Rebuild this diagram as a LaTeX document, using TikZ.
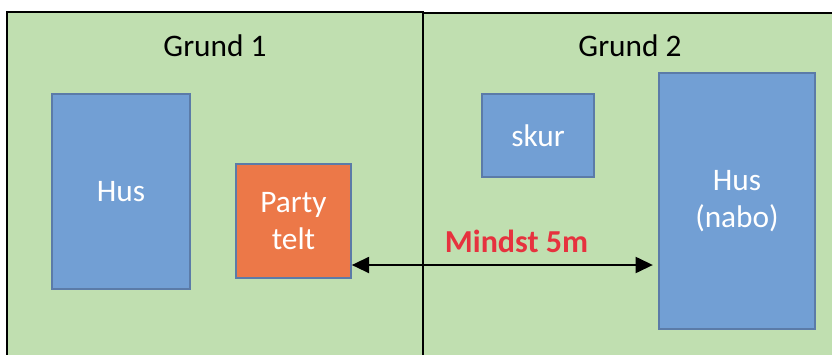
\documentclass[tikz,border=0pt]{standalone}
\usepackage{fontspec}
\setmainfont{Carlito}
\usetikzlibrary{arrows.meta}

\definecolor{grass}{HTML}{C0DFB0}
\definecolor{husblue}{HTML}{729FD4}
\definecolor{husline}{HTML}{5B7BA8}
\definecolor{teltorange}{HTML}{EC7848}
\definecolor{markred}{HTML}{E6323E}

\tikzset{every picture/.style={line width=0.75pt}}
\tikzset{
  grund/.style={draw=black, fill=grass, line width=1.2pt, inner sep=0pt},
  bygg/.style={draw=husline, fill=husblue, line width=1.2pt, inner sep=0pt, text=white, align=center, font=\fontsize{23.5}{28}\selectfont},
  tittel/.style={font=\fontsize{23.5}{28}\selectfont, inner sep=0pt},
}

\begin{document}
\begin{tikzpicture}[x=0.75pt,y=0.75pt,yscale=-1,xscale=1]
\useasboundingbox (0,0) rectangle (832,354);

\node [grund, minimum width=416*0.75pt, minimum height=360*0.75pt] (grund1) at (215,192) {};
\node [grund, minimum width=417*0.75pt, minimum height=360*0.75pt] (grund2) at (631.5,193) {};

\node [tittel] (navn1) at (215,46) {Grund 1};
\node [tittel] (navn2) at (630,46) {Grund 2};

\node [bygg, minimum width=138*0.75pt, minimum height=195*0.75pt] (hus) at (121,191.5) {Hus};
\node [bygg, fill=teltorange, minimum width=115*0.75pt, minimum height=114*0.75pt] (telt) at (293.5,221) {Party\\telt};
\node [bygg, minimum width=112*0.75pt, minimum height=83*0.75pt] (skur) at (538,135.5) {skur};
\node [bygg, minimum width=156*0.75pt, minimum height=256*0.75pt] (nabo) at (737,201) {Hus\\(nabo)};

\coordinate (pil) at (500,265);
\draw [{Triangle[length=13pt,width=12pt]}-{Triangle[length=13pt,width=12pt]}, line width=1.7pt, shorten >=4pt]
  (telt.east |- pil) -- (nabo.west |- pil);

\node [text=markred, font=\fontsize{24}{28}\selectfont\bfseries, inner sep=0pt] (avstand) at (516.5,241) {Mindst 5m};

\end{tikzpicture}
\end{document}
